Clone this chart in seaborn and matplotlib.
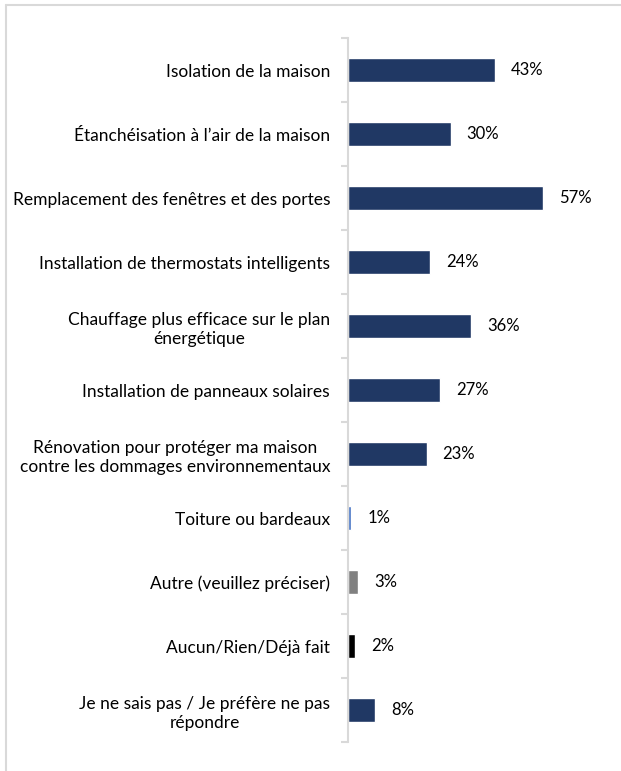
import matplotlib
matplotlib.use("Agg")
import matplotlib.pyplot as plt
import seaborn as sns
import pandas as pd
from matplotlib.lines import Line2D

# data
categories = [
    "Isolation de la maison",
    "Étanchéisation à l’air de la maison",
    "Remplacement des fenêtres et des portes",
    "Installation de thermostats intelligents",
    "Chauffage plus efficace sur le plan\nénergétique",
    "Installation de panneaux solaires",
    "Rénovation pour protéger ma maison\ncontre les dommages environnementaux",
    "Toiture ou bardeaux",
    "Autre (veuillez préciser)",
    "Aucun/Rien/Déjà fait",
    "Je ne sais pas / Je préfère ne pas\nrépondre",
]
values = [43, 30, 57, 24, 36, 27, 23, 1, 3, 2, 8]
bar_colors = ["#203864"] * 7 + ["#4472C4", "#808080", "#000000", "#203864"]

sns.set_style("white")
plt.rcParams["font.family"] = ["Lato", "DejaVu Sans"]

df = pd.DataFrame({"Category": categories, "Value": values})

fig = plt.figure(figsize=(6.21, 7.71), dpi=100)
ax = fig.add_axes([0.5605, 0.0376, 0.385, 0.9131])

sns.barplot(data=df, x="Value", y="Category", hue="Category",
            palette=bar_colors, legend=False, width=0.36,
            orient="h", ax=ax, saturation=1)

ax.set_xlim(0, 70)
ax.set_ylim(len(categories) - 0.5, -0.5)
ax.set_xlabel("")
ax.set_ylabel("")
ax.set_xticks([])

# tick marks between categories, labels centred on bars
ax.set_yticks([i - 0.5 for i in range(len(categories) + 1)])
ax.set_yticklabels([])
ax.tick_params(axis="y", which="major", length=5, width=1.5,
               color="#D9D9D9", left=True, direction="out")
ax.set_yticks(range(len(categories)), minor=True)
ax.set_yticklabels(categories, minor=True, fontsize=12.5,
                   color="#000000", multialignment="center",
                   linespacing=1.3)
ax.tick_params(axis="y", which="minor", length=0, pad=13)

for s in ["top", "right", "bottom"]:
    ax.spines[s].set_visible(False)
ax.spines["left"].set_color("#D9D9D9")
ax.spines["left"].set_linewidth(1.5)

for i, v in enumerate(values):
    ax.annotate(f"{v}%", xy=(v, i), xytext=(11.5, 0),
                textcoords="offset points", va="center", ha="left",
                fontsize=12, color="#000000")

# outer frame (left and top edges visible)
fig.add_artist(Line2D([6 / 621, 6 / 621], [0, 1 - 5 / 771],
                      transform=fig.transFigure, color="#D9D9D9", lw=1.5))
fig.add_artist(Line2D([6 / 621, 1], [1 - 5 / 771, 1 - 5 / 771],
                      transform=fig.transFigure, color="#D9D9D9", lw=1.5))

fig.savefig("out.png", dpi=100)
